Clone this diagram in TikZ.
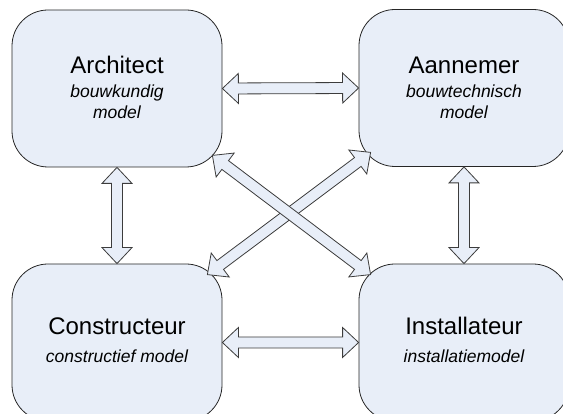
\documentclass[tikz,border=0pt]{standalone}
\usepackage{fontspec}
\setmainfont{Liberation Sans}
\usetikzlibrary{calc}

\definecolor{boxfill}{HTML}{E8EEF8}
\definecolor{boxline}{HTML}{262626}
\definecolor{arrowline}{HTML}{3C3C3C}

% double block arrow between two points
\newcommand{\dblarrow}[2]{%
  \draw[blockarrow] (#1)
    -- ($(#1)!16pt!(#2)!15pt!90:(#2)$)
    -- ($(#1)!16pt!(#2)!5.5pt!90:(#2)$)
    -- ($(#2)!16pt!(#1)!5.5pt!-90:(#1)$)
    -- ($(#2)!16pt!(#1)!15pt!-90:(#1)$)
    -- (#2)
    -- ($(#2)!16pt!(#1)!15pt!90:(#1)$)
    -- ($(#2)!16pt!(#1)!5.5pt!90:(#1)$)
    -- ($(#1)!16pt!(#2)!5.5pt!-90:(#2)$)
    -- ($(#1)!16pt!(#2)!15pt!-90:(#2)$)
    -- cycle;}

\tikzset{
  party/.style={rounded corners=36pt, draw=boxline, fill=boxfill, line width=0.8pt,
    minimum width=210pt, minimum height=157pt, inner sep=0pt},
  role/.style={anchor=base, font=\fontsize{24}{28}\selectfont},
  model/.style={anchor=base, align=center, font=\fontsize{17.5}{21}\selectfont\itshape},
  blockarrow/.style={draw=arrowline, fill=boxfill, line width=0.8pt, line join=miter}
}

\begin{document}
\begin{tikzpicture}[x=1pt,y=1pt]
    \useasboundingbox (0,0) rectangle (563,414);
    \clip (0,0) rectangle (563,414);

    \node [party] (arch) at (117,325.5) {};
    \node [party] (aann) at (464,326) {};
    \node [party] (cons) at (117,71.5) {};
    \node [party] (inst) at (464,71.5) {};

    \node [role] (arch-role) at ([yshift=14.5pt]arch.center) {Architect};
    \node [model] (arch-model) at ([yshift=-30.5pt]arch.center) {bouwkundig\\model};
    \node [role] (aann-role) at ([yshift=14pt]aann.center) {Aannemer};
    \node [model] (aann-model) at ([yshift=-30.5pt]aann.center) {bouwtechnisch\\model};
    \node [role] (cons-role) at ([yshift=7.5pt]cons.center) {Constructeur};
    \node [model] (cons-model) at ([yshift=-20.5pt]cons.center) {constructief model};
    \node [role] (inst-role) at ([yshift=7.5pt]inst.center) {Installateur};
    \node [model] (inst-model) at ([yshift=-20.5pt]inst.center) {installatiemodel};

    \coordinate (arch-tip) at ($(arch.south east)+(-10,12)$);
    \coordinate (aann-tip) at ($(aann.south west)+(12,14.5)$);
    \coordinate (cons-tip) at ($(cons.north east)+(-15,-11)$);
    \coordinate (inst-tip) at ($(inst.north west)+(12,-11)$);

    \dblarrow{arch.east}{aann.west}
    \dblarrow{cons.east}{inst.west}
    \dblarrow{arch.south}{cons.north}
    \dblarrow{aann.south}{inst.north}
    \dblarrow{aann-tip}{cons-tip}
    \dblarrow{arch-tip}{inst-tip}
\end{tikzpicture}
\end{document}
